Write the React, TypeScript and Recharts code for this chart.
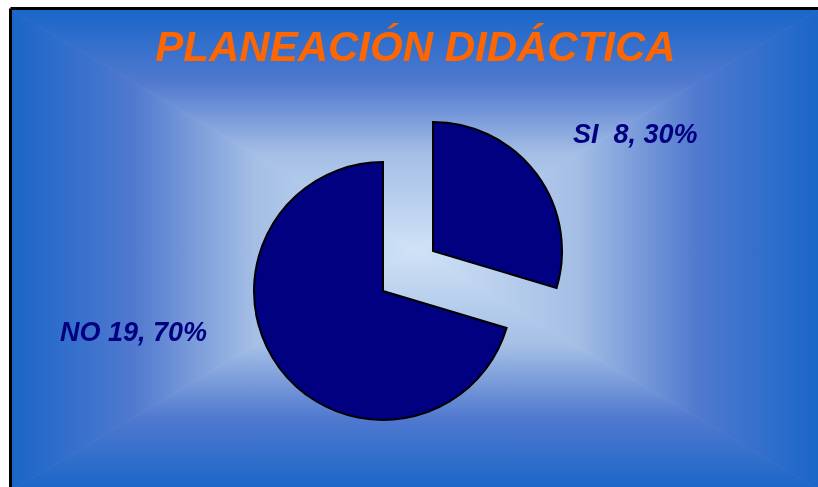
import { PieChart, Pie, Cell } from "recharts";

const categories = ["SI", "NO"];
const counts = [8, 19];
const percents = [30, 70];

const TITLE = "PLANEACIÓN DIDÁCTICA";
const NAVY = "#000080";
const ORANGE = "#ff6600";

const W = 818;
const H = 487;

// plot box in page coords (the wrapper is fixed at 0,0)
const X0 = 12;
const Y0 = 10;
const X1 = 819;
const Y1 = 490;
const CX = (X0 + X1) / 2;
const CY = (Y0 + Y1) / 2;

const data = categories.map((name, i) => ({
  name,
  value: counts[i],
  pct: percents[i],
}));

// label placement per slice, relative to the slice's own centre
const LABEL_POS: Record<string, { dx: number; dy: number; anchor: "start" | "end" }> = {
  SI: { dx: 140, dy: -108, anchor: "start" },
  NO: { dx: -176, dy: 50, anchor: "end" },
};

function makeLabel(visible: string) {
  return (props: any) => {
    const name = props?.name ?? props?.payload?.name;
    if (name !== visible) return null;
    const pos = LABEL_POS[name];
    const d = data.find((x) => x.name === name)!;
    // Excel put two spaces after the one-digit count
    const text = `${d.name}${d.value < 10 ? "  " : " "}${d.value}, ${d.pct}%`;
    return (
      <text
        x={props.cx + pos.dx}
        y={props.cy + pos.dy}
        textAnchor={pos.anchor}
        fill={NAVY}
        style={{
          fontFamily: "'Liberation Sans', Arial, sans-serif",
          fontWeight: 700,
          fontStyle: "italic",
          fontSize: 27,
          whiteSpace: "pre",
        }}
      >
        {text}
      </text>
    );
  };
}

const STOPS = [
  { o: 0, c: "#1a66c8" },
  { o: 0.3, c: "#5079cf" },
  { o: 0.6, c: "#a4bee5" },
  { o: 1, c: "#cfe2f6" },
];

function Grad({ id, x1, y1, x2, y2 }: { id: string; x1: number; y1: number; x2: number; y2: number }) {
  return (
    <linearGradient id={id} gradientUnits="userSpaceOnUse" x1={x1} y1={y1} x2={x2} y2={y2}>
      {STOPS.map((s) => (
        <stop key={s.o} offset={s.o} stopColor={s.c} />
      ))}
    </linearGradient>
  );
}

function Background() {
  const tris = [
    { id: "gT", pts: `${X0},${Y0} ${X1},${Y0} ${CX},${CY}` },
    { id: "gB", pts: `${X0},${Y1} ${X1},${Y1} ${CX},${CY}` },
    { id: "gL", pts: `${X0},${Y0} ${X0},${Y1} ${CX},${CY}` },
    { id: "gR", pts: `${X1},${Y0} ${X1},${Y1} ${CX},${CY}` },
  ];
  return (
    <svg width={W} height={H} style={{ position: "absolute", left: 0, top: 0 }}>
      <defs>
        <Grad id="gT" x1={CX} y1={Y0} x2={CX} y2={CY} />
        <Grad id="gB" x1={CX} y1={Y1} x2={CX} y2={CY} />
        <Grad id="gL" x1={X0} y1={CY} x2={CX} y2={CY} />
        <Grad id="gR" x1={X1} y1={CY} x2={CX} y2={CY} />
      </defs>
      {tris.map((t) => (
        <polygon key={t.id} points={t.pts} fill={`url(#${t.id})`} stroke={`url(#${t.id})`} strokeWidth={0.8} />
      ))}
      <line x1={10.5} y1={8.5} x2={W} y2={8.5} stroke="#000" strokeWidth={3} />
      <line x1={10.5} y1={8.5} x2={10.5} y2={H} stroke="#000" strokeWidth={3} />
      <text
        x={CX}
        y={61}
        textAnchor="middle"
        fill={ORANGE}
        style={{
          fontFamily: "'Liberation Sans', Arial, sans-serif",
          fontWeight: 700,
          fontStyle: "italic",
          fontSize: 42,
        }}
      >
        {TITLE}
      </text>
    </svg>
  );
}

export default function App() {
  return (
    <div style={{ position: "fixed", left: 0, top: 0, width: W, height: H, overflow: "hidden" }}>
      <Background />
      <div style={{ position: "absolute", left: 0, top: 0 }}>
        <PieChart width={W} height={H} margin={{ top: 0, right: 0, bottom: 0, left: 0 }}>
          {/* main body: NO slice */}
          <Pie
            data={data}
            dataKey="value"
            nameKey="name"
            cx={383}
            cy={291}
            outerRadius={129}
            startAngle={90}
            endAngle={-270}
            isAnimationActive={false}
            labelLine={false}
            label={makeLabel("NO")}
          >
            <Cell fill="transparent" stroke="none" />
            <Cell fill={NAVY} stroke="#000" strokeWidth={2} />
          </Pie>
          {/* exploded SI slice */}
          <Pie
            data={data}
            dataKey="value"
            nameKey="name"
            cx={433}
            cy={251}
            outerRadius={129}
            startAngle={90}
            endAngle={-270}
            isAnimationActive={false}
            labelLine={false}
            label={makeLabel("SI")}
          >
            <Cell fill={NAVY} stroke="#000" strokeWidth={2} />
            <Cell fill="transparent" stroke="none" />
          </Pie>
        </PieChart>
      </div>
    </div>
  );
}
